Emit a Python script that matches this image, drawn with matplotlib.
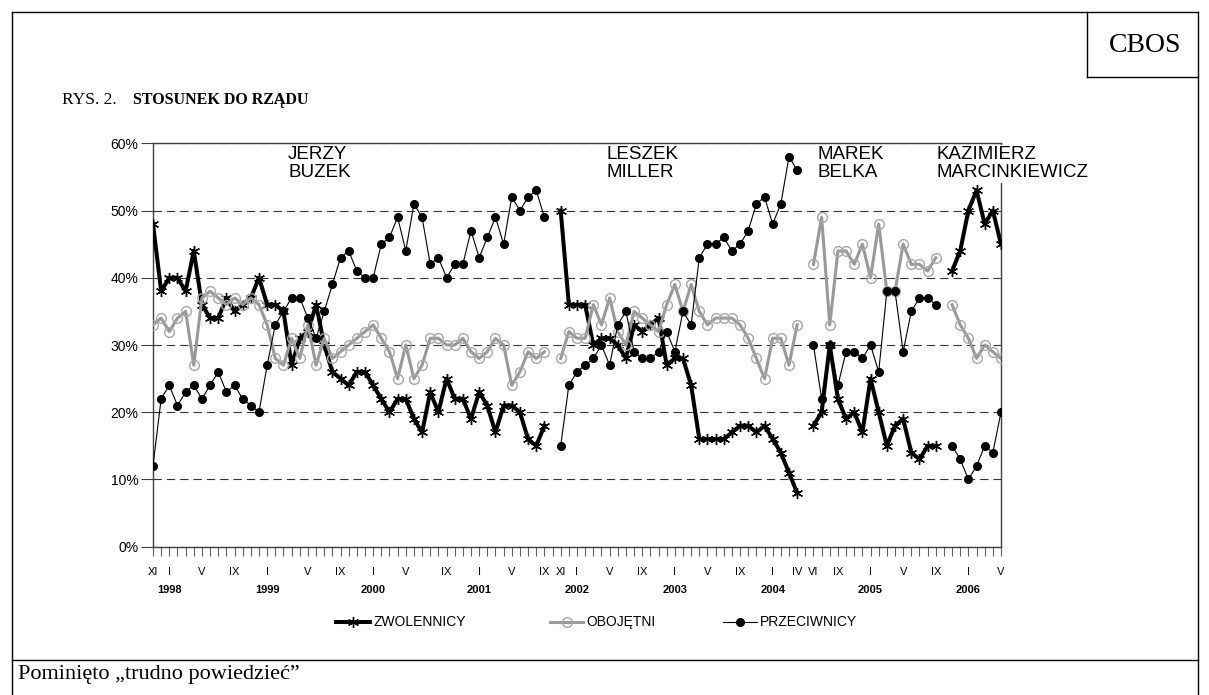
import numpy as np
import matplotlib.pyplot as plt
from matplotlib.lines import Line2D
from matplotlib.transforms import blended_transform_factory

nan = np.nan

# one entry per survey (XI 1997 ... V 2006), nan = change of government
zwolennicy = [48, 38, 40, 40, 38, 44, 36, 34, 34, 37, 35, 36, 37, 40, 36, 36, 35, 27, 31, 32,
              36, 30, 26, 25, 24, 26, 26, 24, 22, 20, 22, 22, 19, 17, 23, 20, 25, 22, 22, 19,
              23, 21, 17, 21, 21, 20, 16, 15, 18, nan, 50, 36, 36, 36, 30, 31, 31, 30, 28, 33,
              32, 33, 34, 27, 28, 28, 24, 16, 16, 16, 16, 17, 18, 18, 17, 18, 16, 14, 11, 8,
              nan, 18, 20, 30, 22, 19, 20, 17, 25, 20, 15, 18, 19, 14, 13, 15, 15, nan, 41, 44,
              50, 53, 48, 50, 45]
obojetni = [33, 34, 32, 34, 35, 27, 37, 38, 37, 36, 37, 36, 37, 36, 33, 28, 27, 31, 28, 33,
            27, 31, 28, 29, 30, 31, 32, 33, 31, 29, 25, 30, 25, 27, 31, 31, 30, 30, 31, 29,
            28, 29, 31, 30, 24, 26, 29, 28, 29, nan, 28, 32, 31, 31, 36, 33, 37, 32, 30, 35,
            34, 33, 32, 36, 39, 35, 39, 35, 33, 34, 34, 34, 33, 31, 28, 25, 31, 31, 27, 33,
            nan, 42, 49, 33, 44, 44, 42, 45, 40, 48, 38, 38, 45, 42, 42, 41, 43, nan, 36, 33,
            31, 28, 30, 29, 28]
przeciwnicy = [12, 22, 24, 21, 23, 24, 22, 24, 26, 23, 24, 22, 21, 20, 27, 33, 35, 37, 37, 34,
               31, 35, 39, 43, 44, 41, 40, 40, 45, 46, 49, 44, 51, 49, 42, 43, 40, 42, 42, 47,
               43, 46, 49, 45, 52, 50, 52, 53, 49, nan, 15, 24, 26, 27, 28, 30, 27, 33, 35, 29,
               28, 28, 29, 32, 29, 35, 33, 43, 45, 45, 46, 44, 45, 47, 51, 52, 48, 51, 58, 56,
               nan, 30, 22, 30, 24, 29, 29, 28, 30, 26, 38, 38, 29, 35, 37, 37, 36, nan, 15, 13,
               10, 12, 15, 14, 20]
series_names = ['ZWOLENNICY', 'OBOJĘTNI', 'PRZECIWNICY']

month_labels = {0: 'XI', 2: 'I', 6: 'V', 10: 'IX', 14: 'I', 19: 'V', 23: 'IX', 27: 'I',
                31: 'V', 36: 'IX', 40: 'I', 44: 'V', 48: 'IX', 50: 'XI', 52: 'I', 56: 'V',
                60: 'IX', 64: 'I', 68: 'V', 72: 'IX', 76: 'I', 79: 'IV', 81: 'VI', 84: 'IX',
                88: 'I', 92: 'V', 96: 'IX', 100: 'I', 104: 'V'}
year_labels = {2: '1998', 14: '1999', 27: '2000', 40: '2001', 52: '2002', 64: '2003',
               76: '2004', 88: '2005', 100: '2006'}
premiers = ['JERZY\nBUZEK', 'LESZEK\nMILLER', 'MAREK\nBELKA', 'KAZIMIERZ\nMARCINKIEWICZ']
premier_x = [288, 606, 818, 937]   # left edge of the label, pixels

plt.rcParams['font.family'] = ['Liberation Sans', 'DejaVu Sans']

W, H = 1209, 695
def fx(px):
    return px / W
def fy(py):
    return 1 - py / H

fig = plt.figure(figsize=(W / 100, H / 100), dpi=100)
ax = fig.add_axes([fx(153), fy(546.7), 848 / W, 403.4 / H])

styles = [
    dict(color='black', lw=2.9, marker=(6, 2, 0), ms=8, mew=1, mec='black', zorder=3),
    dict(color='#999999', lw=2.2, marker='o', ms=7, mfc='none', mec='#a8a8a8', mew=1, zorder=4),
    dict(color='black', lw=0.8, marker='o', ms=5.5, mfc='black', mec='black', zorder=5),
]

x = np.arange(len(zwolennicy))
for vals, st in zip([zwolennicy, obojetni, przeciwnicy], styles):
    ax.plot(x, vals, **st)

ax.set_xlim(0, len(x) - 1)
ax.set_ylim(0, 60)
ax.set_yticks(range(0, 61, 10))
ax.set_yticklabels([f'{v}%' for v in range(0, 61, 10)], fontsize=10)
ax.yaxis.grid(True, ls=(0, (7.5, 4.5)), color='#333333', lw=0.8)
ax.set_axisbelow(True)
ax.tick_params(axis='y', direction='out', length=9, width=0.8, color='#404040', pad=1.5)

ax.set_xticks(x)
ax.set_xticklabels([month_labels.get(i, '') for i in x], fontsize=8)
ax.tick_params(axis='x', direction='out', length=6.5, width=0.8, color='#606060', pad=8)
for s in ax.spines.values():
    s.set_color('#404040')
    s.set_linewidth(1)

tr = blended_transform_factory(ax.transData, fig.transFigure)
for i, yr in year_labels.items():
    ax.text(i, fy(585), yr, transform=tr, ha='center', va='top', fontsize=8,
            fontweight='bold')

for name, px in zip(premiers, premier_x):
    fig.text(fx(px), fy(146), name, ha='left', va='top', fontsize=13.5,
             linespacing=1.1, zorder=10,
             bbox=dict(facecolor='white', edgecolor='none', pad=1))

# legend drawn by hand: handle start, handle end, text start (pixels)
leg_pos = [(336, 370, 373), (550, 583, 586), (723, 757, 760)]
leg_y = 622
for name, st, (h0, h1, t0) in zip(series_names, styles, leg_pos):
    fig.add_artist(Line2D([fx(h0), fx(h1)], [fy(leg_y)] * 2, transform=fig.transFigure,
                          color=st['color'], lw=st['lw']))
    mk = {k: v for k, v in st.items() if k not in ('lw', 'zorder')}
    fig.add_artist(Line2D([fx((h0 + h1) / 2)], [fy(leg_y)], transform=fig.transFigure,
                          ls='none', **mk))
    fig.text(fx(t0), fy(leg_y), name, fontsize=10, va='center', ha='left')

serif = ['Liberation Serif', 'DejaVu Serif']
fig.text(fx(62), fy(100), 'RYS. 2.', family=serif, fontsize=12.5, va='center')
fig.text(fx(133), fy(100), 'STOSUNEK DO RZĄDU', family=serif, fontsize=11.5,
         fontweight='bold', va='center')
fig.text(fx(1145), fy(45), 'CBOS', family=serif, fontsize=20, ha='center', va='center')
fig.text(fx(18), fy(675), 'Pominięto \u201etrudno powiedzieć\u201d', family=serif,
         fontsize=16, va='center')

# frame
frame = [((12, 1198), (12, 12)), ((12, 12), (12, 695)), ((1198, 1198), (12, 695)),
         ((12, 1198), (660, 660)), ((1087, 1087), (12, 77)), ((1087, 1198), (77, 77))]
for xs, ys in frame:
    fig.add_artist(Line2D([fx(v) for v in xs], [fy(v) for v in ys],
                          transform=fig.transFigure, color='black', lw=1))

fig.savefig('out.png', dpi=100)
